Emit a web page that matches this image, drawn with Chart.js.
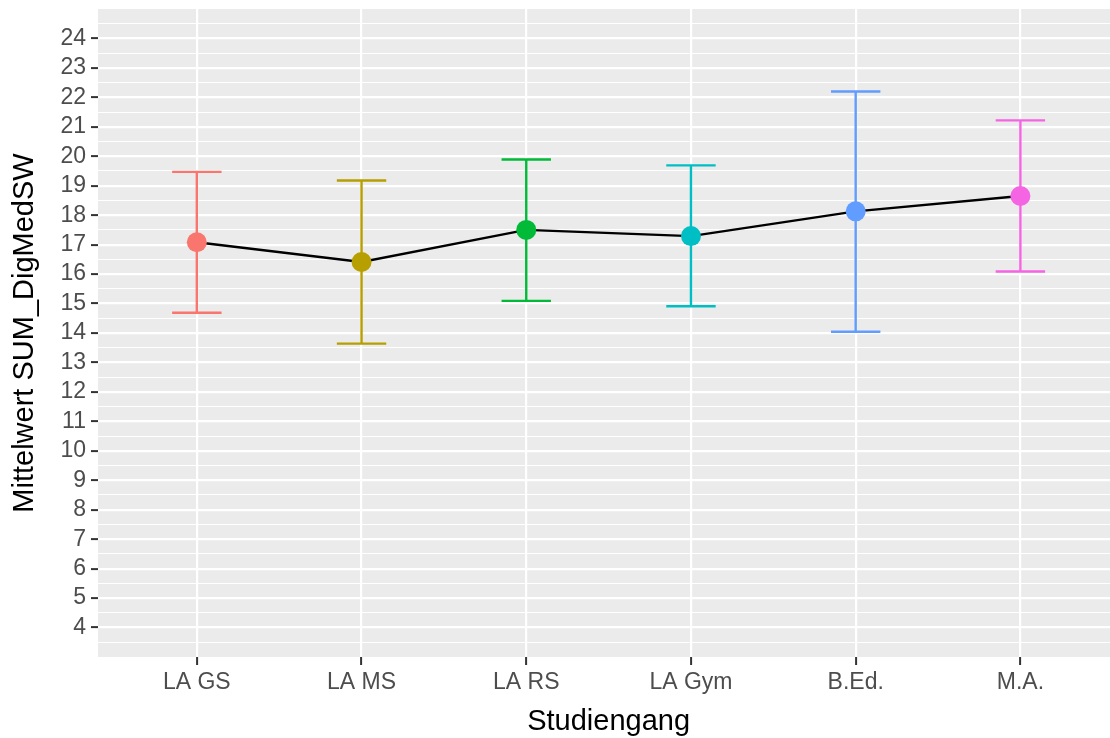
<!DOCTYPE html>
<html>
<head>
<meta charset="utf-8">
<script src="https://cdn.jsdelivr.net/npm/chart.js@4.4.0/dist/chart.umd.min.js"></script>
<style>
  html, body { margin: 0; padding: 0; background: #ffffff; overflow: hidden; }
  #wrap { width: 1110px; height: 738px; }
  #chart { display: block; }
</style>
</head>
<body>
<div id="wrap"><canvas id="chart" width="1110" height="738"></canvas></div>
<script>
// Mean score per study programme with error bars (lower / upper bound)
const studiengang = ['LA GS', 'LA MS', 'LA RS', 'LA Gym', 'B.Ed.', 'M.A.'];
const mittelwert = [17.08, 16.41, 17.50, 17.29, 18.13, 18.65];
const untereGrenze = [14.69, 13.64, 15.09, 14.91, 14.04, 16.09];
const obereGrenze = [19.47, 19.18, 19.89, 19.69, 22.20, 21.22];
const farben = ['#F8766D', '#B79F00', '#00BA38', '#00BFC4', '#619CFF', '#F564E3'];
const yTicks = [4, 5, 6, 7, 8, 9, 10, 11, 12, 13, 14, 15, 16, 17, 18, 19, 20, 21, 22, 23, 24];

const FONT = "'Liberation Sans', Arial, Helvetica, sans-serif";
const CAP = 0.15; // half width of the error bar caps (in category units)

// grey panel behind the plot area, ggplot style
const panelBg = {
  id: 'panelBg',
  beforeDraw(chart) {
    const { ctx, chartArea: a } = chart;
    ctx.save();
    ctx.fillStyle = '#EBEBEB';
    ctx.fillRect(a.left, a.top, a.right - a.left, a.bottom - a.top);
    ctx.restore();
  }
};

// x axis title, centred under the middle of the category range
const xTitle = {
  id: 'xTitle',
  afterDraw(chart) {
    const { ctx, scales } = chart;
    const mid = scales.x.getPixelForValue((1 + studiengang.length) / 2);
    ctx.save();
    ctx.font = '29px ' + FONT;
    ctx.fillStyle = '#000000';
    ctx.textAlign = 'center';
    ctx.textBaseline = 'alphabetic';
    ctx.fillText('Studiengang', mid, 730);
    ctx.restore();
  }
};

// y grid: major lines on the labelled ticks, minor lines half way between
const yGrid = [3.5];
yTicks.forEach(v => { yGrid.push(v); yGrid.push(v + 0.5); });

// one dataset per error bar: upper cap, vertical whisker, lower cap (gaps via null)
const errorSets = studiengang.map((name, i) => {
  const x = i + 1;
  return {
    label: name,
    data: [
      { x: x - CAP, y: obereGrenze[i] }, { x: x + CAP, y: obereGrenze[i] }, { x: x, y: null },
      { x: x, y: obereGrenze[i] }, { x: x, y: untereGrenze[i] }, { x: x, y: null },
      { x: x - CAP, y: untereGrenze[i] }, { x: x + CAP, y: untereGrenze[i] }
    ],
    borderColor: farben[i],
    borderWidth: 2.4,
    pointRadius: 0,
    spanGaps: false,
    tension: 0
  };
});

const meanPoints = mittelwert.map((v, i) => ({ x: i + 1, y: v }));

new Chart(document.getElementById('chart'), {
  type: 'line',
  data: {
    datasets: [
      {
        label: 'Mittelwert',
        data: meanPoints,
        showLine: false,
        pointRadius: 10,
        pointBorderWidth: 0,
        pointBackgroundColor: farben,
        pointBorderColor: farben
      },
      {
        label: 'Verlauf',
        data: meanPoints,
        borderColor: '#000000',
        borderWidth: 2.4,
        pointRadius: 0,
        tension: 0
      },
      ...errorSets
    ]
  },
  options: {
    responsive: false,
    animation: false,
    devicePixelRatio: 1,
    events: [],
    layout: { autoPadding: false, padding: { left: 0, right: 0, top: 9, bottom: 0 } },
    plugins: { legend: { display: false }, tooltip: { enabled: false } },
    scales: {
      x: {
        type: 'linear',
        min: 0.4,
        max: 6.544,
        afterBuildTicks(scale) { scale.ticks = studiengang.map((_, i) => ({ value: i + 1 })); },
        afterFit(scale) {
          scale.height = 81;
          scale.paddingLeft = 0;
          scale.paddingRight = 0;
        },
        border: { display: false },
        grid: { color: '#FFFFFF', lineWidth: 2.2, tickLength: 8, tickWidth: 2, tickColor: '#333333' },
        ticks: {
          autoSkip: false, maxRotation: 0, minRotation: 0, padding: 4,
          color: '#4D4D4D', font: { family: FONT, size: 23 },
          callback: (v, i) => studiengang[i]
        },
        title: { display: false }
      },
      y: {
        type: 'linear',
        min: 3,
        max: 25,
        afterBuildTicks(scale) { scale.ticks = yGrid.map(v => ({ value: v })); },
        afterFit(scale) {
          scale.width = 98;
          scale.paddingTop = 0;
          scale.paddingBottom = 0;
        },
        border: { display: false },
        grid: {
          color: '#FFFFFF',
          lineWidth: c => (c.tick && Number.isInteger(c.tick.value)) ? 2.2 : 1.1,
          tickLength: 7,
          tickWidth: 2,
          tickColor: c => (c.tick && yTicks.includes(c.tick.value)) ? '#333333' : 'rgba(0,0,0,0)'
        },
        ticks: {
          autoSkip: false, padding: 5,
          color: '#4D4D4D', font: { family: FONT, size: 23 },
          callback: v => yTicks.includes(v) ? String(v) : ''
        },
        title: {
          display: true, text: 'Mittelwert SUM_DigMedSW', color: '#000000',
          font: { family: FONT, size: 29 }, padding: { top: 8, bottom: 0 }
        }
      }
    }
  },
  plugins: [panelBg, xTitle]
});
</script>
</body>
</html>
